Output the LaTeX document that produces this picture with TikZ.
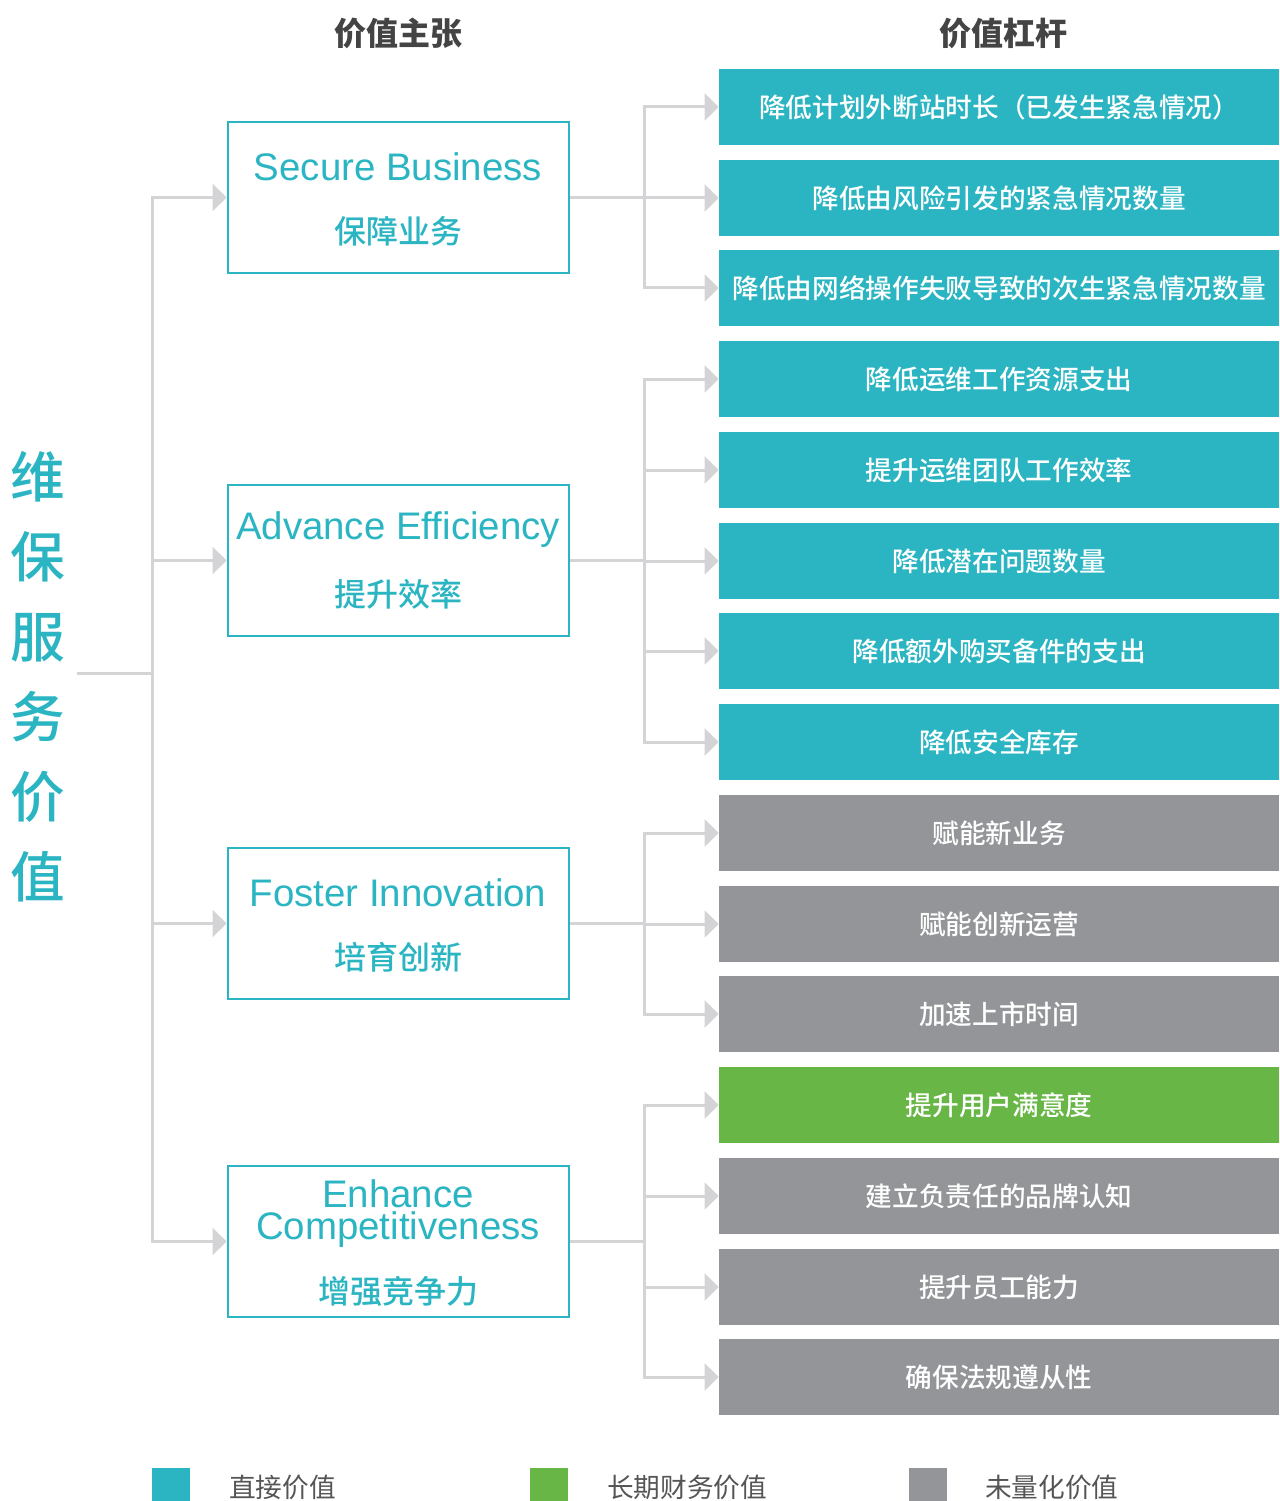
\documentclass[tikz,border=0pt]{standalone}
\usepackage{fontspec}
\setmainfont{Liberation Sans}
\newfontfamily\cjk{Noto Sans CJK SC}
\newfontfamily\cjkmed{Noto Sans CJK SC Medium}
\usetikzlibrary{arrows.meta}
\definecolor{tealc}{HTML}{2BB5C2}
\definecolor{greenc}{HTML}{68B646}
\definecolor{grayc}{HTML}{939598}
\definecolor{linec}{HTML}{D4D4D6}
\definecolor{headc}{HTML}{444444}
\definecolor{legc}{HTML}{555555}
\begin{document}
\begin{tikzpicture}[x=0.75pt,y=-0.75pt,
  lev/.style={minimum width=420pt,minimum height=57pt,inner sep=0pt,text=white,
    font=\cjkmed\fontsize{20}{24}\selectfont},
  levt/.style={lev,fill=tealc},
  levg/.style={lev,fill=grayc},
  levn/.style={lev,fill=greenc},
  prop/.style={draw=tealc,line width=2pt,minimum width=255.75pt,minimum height=113.25pt,inner sep=0pt},
  en/.style={text=tealc,font=\fontsize{28.8}{24}\selectfont,inner sep=0pt},
  zh/.style={text=tealc,font=\cjkmed\fontsize{24}{28}\selectfont,inner sep=0pt},
  ln/.style={draw=linec,line width=2.25pt},
  arr/.style={ln,-{Triangle[length=10.5pt,width=20pt]}},
  head/.style={text=headc,font=\cjk\bfseries\fontsize{24}{28}\selectfont},
  leg/.style={text=legc,font=\cjk\fontsize{20}{24}\selectfont,anchor=west,inner sep=0pt}
]
\useasboundingbox (0,0) rectangle (1279,1501);

% headers
\node[head] (h1) at (398,33) {价值主张};
\node[head] (h2) at (1003,33) {价值杠杆};

% title
\node[text=tealc,font=\cjkmed\fontsize{41}{60}\selectfont,align=center,inner sep=0pt] (title) at (38,677)
  {维\\保\\服\\务\\价\\值};

% proposition boxes
\node[prop] (L1) at (398.5,197.5) {};
\node[prop] (L2) at (398.5,560.5) {};
\node[prop] (L3) at (398.5,923.5) {};
\node[prop] (L4) at (398.5,1241.5) {};
\node[en] (L1e) at (398,167) {Secure Business};
\node[zh] (L1z) at (398,231) {保障业务};
\node[en] (L2e) at (398,530) {Advance Efficiency};
\node[zh] (L2z) at (398,594) {提升效率};
\node[en] (L3e) at (398,893) {Foster Innovation};
\node[zh] (L3z) at (398,957) {培育创新};
\node[en,align=center,font=\fontsize{28.8}{24}\selectfont] (L4e) at (398,1214) {Enhance\\Competitiveness};
\node[zh] (L4z) at (398,1291) {增强竞争力};

% lever boxes
\node[levt] (r1) at (999,107) {降低计划外断站时长（已发生紧急情况）};
\node[levt] (r2) at (999,198) {降低由风险引发的紧急情况数量};
\node[levt] (r3) at (999,288) {降低由网络操作失败导致的次生紧急情况数量};
\node[levt] (r4) at (999,379) {降低运维工作资源支出};
\node[levt] (r5) at (999,470) {提升运维团队工作效率};
\node[levt] (r6) at (999,561) {降低潜在问题数量};
\node[levt] (r7) at (999,651) {降低额外购买备件的支出};
\node[levt] (r8) at (999,742) {降低安全库存};
\node[levg] (r9) at (999,833) {赋能新业务};
\node[levg] (r10) at (999,924) {赋能创新运营};
\node[levg] (r11) at (999,1014) {加速上市时间};
\node[levn] (r12) at (999,1105) {提升用户满意度};
\node[levg] (r13) at (999,1196) {建立负责任的品牌认知};
\node[levg] (r14) at (999,1287) {提升员工能力};
\node[levg] (r15) at (999,1377) {确保法规遵从性};

% trunk
\coordinate (t0) at (77,673);
\coordinate (tb) at (152,673);
\draw[ln] (t0) -- (tb);
\draw[arr] (tb) |- (L1.west);
\draw[arr] (tb) |- (L2.west);
\draw[arr] (tb) |- (L3.west);
\draw[arr] (tb) |- (L4.west);

% branch 1
\coordinate (c1) at (644,197.5);
\draw[ln] (L1.east) -- (c1);
\draw[arr] (c1) |- (r1.west);
\draw[arr] (c1) |- (r2.west);
\draw[arr] (c1) |- (r3.west);
% branch 2
\coordinate (c2) at (644,560.5);
\draw[ln] (L2.east) -- (c2);
\draw[arr] (c2) |- (r4.west);
\draw[arr] (c2) |- (r5.west);
\draw[arr] (c2) |- (r6.west);
\draw[arr] (c2) |- (r7.west);
\draw[arr] (c2) |- (r8.west);
% branch 3
\coordinate (c3) at (644,923.5);
\draw[ln] (L3.east) -- (c3);
\draw[arr] (c3) |- (r9.west);
\draw[arr] (c3) |- (r10.west);
\draw[arr] (c3) |- (r11.west);
% branch 4
\coordinate (c4) at (644,1241.5);
\draw[ln] (L4.east) -- (c4);
\draw[arr] (c4) |- (r12.west);
\draw[arr] (c4) |- (r13.west);
\draw[arr] (c4) |- (r14.west);
\draw[arr] (c4) |- (r15.west);

% legend
\fill[tealc] (152,1468) rectangle (190,1501);
\fill[greenc] (530,1468) rectangle (568,1501);
\fill[grayc] (909,1468) rectangle (947,1501);
\node[leg] (g1) at (229,1487) {直接价值};
\node[leg] (g2) at (607,1487) {长期财务价值};
\node[leg] (g3) at (985,1487) {未量化价值};
\end{tikzpicture}
\end{document}
